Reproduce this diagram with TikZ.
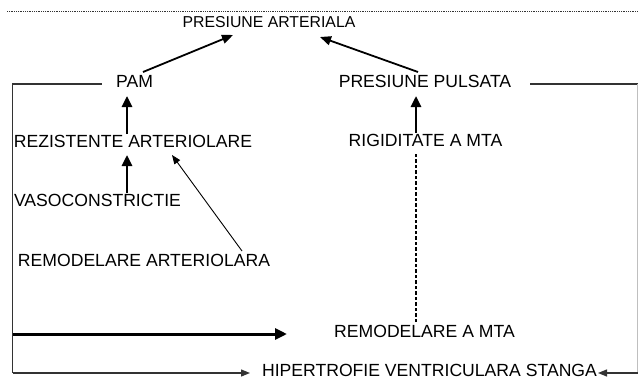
\documentclass[tikz,border=0pt]{standalone}
\usepackage{fontspec}
\setmainfont{Liberation Sans}
\usetikzlibrary{arrows.meta}
\tikzset{
  lbl/.style={inner sep=0pt, outer sep=0pt, font=\fontsize{17.6}{20}\selectfont},
  thickarr/.style={line width=2.6pt, -{Triangle[length=11pt,width=10pt]}},
  medarr/.style={line width=1.8pt, -{Triangle[length=11pt,width=9pt]}},
  thinarr/.style={line width=0.9pt, -{Triangle[length=9pt,width=7pt]}},
  loopline/.style={line width=1.2pt, draw=black!80},
  dashline/.style={line width=2pt, dash pattern=on 3.5pt off 2pt},
}
\begin{document}
\begin{tikzpicture}[x=1pt,y=-1pt]
\useasboundingbox (0,0) rectangle (638,381);
\fill[white] (0,0) rectangle (638,381);
% top dotted rule
\coordinate (tl) at (7,11);
\coordinate (tr) at (638,11);
\draw[line width=0.8pt, dash pattern=on 1pt off 0.8pt, black!80] (tl) -- (tr);
% nodes
\node[lbl, font=\fontsize{15.8}{18}\selectfont] (pa) at (269,22) {PRESIUNE ARTERIALA};
\node[lbl] (pam) at (134.5,81) {PAM};
\node[lbl] (pp) at (425,81) {PRESIUNE PULSATA};
\node[lbl] (rez) at (133,141.5) {REZISTENTE ARTERIOLARE};
\node[lbl] (rig) at (425.5,140) {RIGIDITATE A MTA};
\node[lbl] (vaso) at (97.5,200) {VASOCONSTRICTIE};
\node[lbl] (remart) at (144,260) {REMODELARE ARTERIOLARA};
\node[lbl] (remmta) at (424.5,331.5) {REMODELARE A MTA};
\node[lbl] (hvs) at (429.5,370.5) {HIPERTROFIE VENTRICULARA STANGA};
% connectors
\draw[medarr] ([shift={(8.5,-9)}]pam.center) -- ([shift={(-36,13)}]pa.center);
\draw[medarr] ([shift={(-7,-9)}]pp.center) -- ([shift={(51,15)}]pa.center);
\draw[thickarr] ([shift={(-6,-7.5)}]rez.center) -- ([shift={(-7.5,15)}]pam.center);
\draw[thickarr] ([shift={(29.5,-7)}]vaso.center) -- ([shift={(-6,13.5)}]rez.center);
\draw[thinarr] ([shift={(98,-9)}]remart.center) -- ([shift={(39,13.5)}]rez.center);
\draw[thickarr] ([shift={(-9.5,-7)}]rig.center) -- ([shift={(-9,15)}]pp.center);
\draw[dashline] ([shift={(-8.5,-9.5)}]remmta.center) -- ([shift={(-9.5,13)}]rig.center);
% left loop
\coordinate (lt) at (12.7,84);
\coordinate (lb) at (12.7,373);
\coordinate (lm) at (12.7,334);
\draw[loopline] ([shift={(-33,3)}]pam.center) -- (lt) -- (lb);
\draw[loopline, -{Triangle[length=9pt,width=7pt]}] (lb) -- ([shift={(-179.5,2.5)}]hvs.center);
\draw[line width=3pt, -{Triangle[length=12pt,width=11pt]}] (lm) -- ([shift={(-137.5,2.5)}]remmta.center);
% right loop
\coordinate (rt) at (637.5,84);
\coordinate (rb) at (637.5,373);
\draw[loopline, line width=1.5pt] ([shift={(105,3)}]pp.center) -- (rt);
\draw[black!25, line width=0.6pt] (rt) -- (rb);
\draw[loopline, -{Triangle[length=9pt,width=7pt]}] (rb) -- ([shift={(168.5,2.5)}]hvs.center);
\end{tikzpicture}
\end{document}
